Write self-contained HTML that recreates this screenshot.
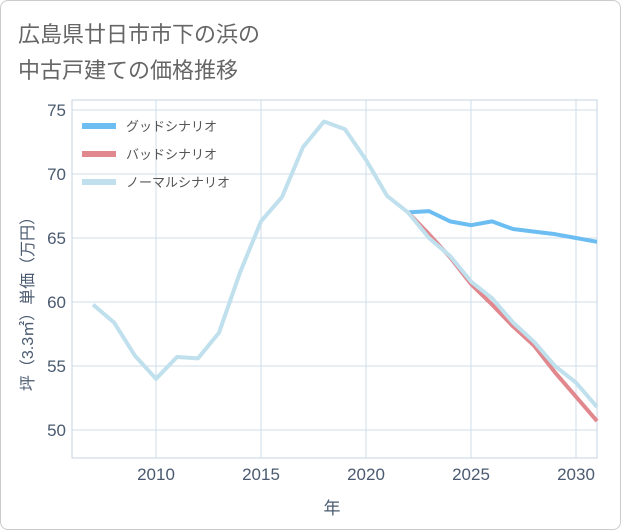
<!DOCTYPE html>
<html><head><meta charset="utf-8"><style>
body{margin:0;background:#fff;font-family:"Liberation Sans","Noto Sans CJK JP",sans-serif;}
#card{position:absolute;left:0;top:0;width:619px;height:528px;border:1px solid #ccc;border-radius:8px;background:#fff;}
</style></head><body>
<div id="card">
<svg id="chart" width="621" height="530" style="position:absolute;left:-1px;top:-1px">
<text x="18" y="42" font-size="22" fill="#666">広島県廿日市市下の浜の</text>
<text x="18" y="78" font-size="22" fill="#666">中古戸建ての価格推移</text>
<g id="grid"></g><g id="series"></g><g id="legend"></g>
<text transform="translate(33,300) rotate(-90)" text-anchor="middle" font-size="16" fill="#4a5a70">坪（3.3㎡）単価（万円）</text>
<text x="332" y="514" text-anchor="middle" font-size="17" fill="#4a5a70">年</text>
</svg></div>
<script>
const years=[2007,2008,2009,2010,2011,2012,2013,2014,2015,2016,2017,2018,2019,2020,2021,2022,2023,2024,2025,2026,2027,2028,2029,2030,2031];
const normal=[59.8,58.4,55.8,54.0,55.7,55.6,57.6,62.3,66.3,68.2,72.1,74.1,73.5,71.1,68.3,67.0,65.0,63.6,61.6,60.3,58.4,56.9,55.0,53.7,51.8];
const futureYears=[2022,2023,2024,2025,2026,2027,2028,2029,2030,2031];
const good=[67.0,67.1,66.3,66.0,66.3,65.7,65.5,65.3,65.0,64.7];
const bad=[67.0,65.3,63.5,61.4,59.8,58.1,56.6,54.5,52.6,50.7];
const xTicks=[2010,2015,2020,2025,2030];
const yTicks=[50,55,60,65,70,75];
const L=72,R=597,T=100,B=458;
const xs=y=>156+(y-2010)*21;
const ys=v=>430-(v-50)*12.8;
const NS="http://www.w3.org/2000/svg";
function mk(t,a,p){const e=document.createElementNS(NS,t);for(const k in a)e.setAttribute(k,a[k]);p.appendChild(e);return e;}
const g=document.getElementById('grid');
mk('rect',{x:L,y:T,width:R-L,height:B-T,fill:'none',stroke:'#c5d3e0'},g);
xTicks.forEach(t=>{const l=mk('line',{x1:xs(t),x2:xs(t),y1:T,y2:B,stroke:'#cfdce8'},g);

const tx=mk('text',{x:xs(t),y:B+22,'text-anchor':'middle','font-size':17,fill:'#4a5a70'},g);tx.textContent=t;
});
yTicks.forEach(t=>{const l=mk('line',{x1:L,x2:R,y1:ys(t),y2:ys(t),stroke:'#cfdce8'},g);

const tx=mk('text',{x:L-6,y:ys(t)+6,'text-anchor':'end','font-size':17,fill:'#4a5a70'},g);tx.textContent=t;
});
const s=document.getElementById('series');
function line(xv,yv,c,name){const p=mk('polyline',{points:xv.map((x,i)=>xs(x)+','+ys(yv[i])).join(' '),fill:'none',stroke:c,'stroke-width':4,'stroke-linejoin':'round'},s);
}
line(futureYears,good,'#6cbdf2','good-scenario-line');
line(futureYears,bad,'#e0888e','bad-scenario-line');
line(years,normal,'#bfe0ec','normal-scenario-line');
const lg=document.getElementById('legend');
[['グッドシナリオ','#6cbdf2'],['バッドシナリオ','#e0888e'],['ノーマルシナリオ','#bfe0ec']].forEach((d,i)=>{
const y=126+i*28;
const l=mk('line',{x1:82,x2:116,y1:y,y2:y,stroke:d[1],'stroke-width':6},lg);

const t=mk('text',{x:126,y:y+5,'font-size':13,fill:'#555'},lg);t.textContent=d[0];
});
</script></body></html>
